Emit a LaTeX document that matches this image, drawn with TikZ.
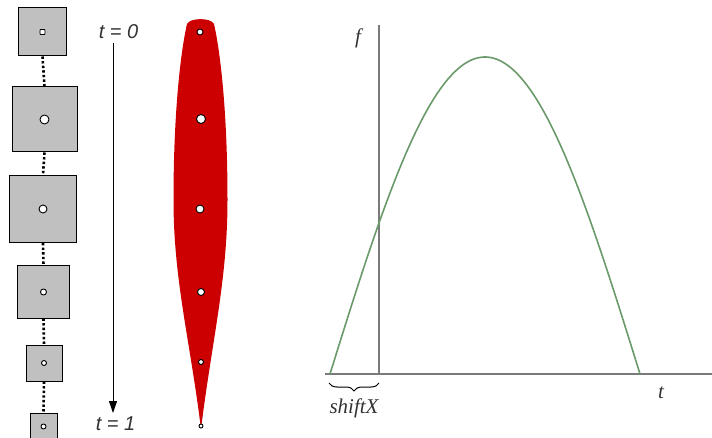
\documentclass[tikz,border=0pt]{standalone}
\usepackage{fontspec}
\setmainfont{Liberation Serif}
\newfontfamily\arialfont{Liberation Sans}
\usetikzlibrary{arrows.meta,decorations.pathreplacing}
\definecolor{boxgray}{HTML}{C0C0C0}
\definecolor{axisgray}{HTML}{7A7A7A}
\definecolor{curvegreen}{HTML}{6A9A6A}
\definecolor{spindlered}{HTML}{CC0000}
\definecolor{labelgray}{HTML}{333333}
\tikzset{
  sqbox/.style={draw=black, line width=1pt, fill=boxgray, minimum size=#1, inner sep=0pt},
  hole/.style={circle, draw=black, line width=0.9pt, fill=white, minimum size=#1, inner sep=0pt},
  link/.style={line width=2.6pt, dash pattern=on 2.4pt off 2.2pt},
  tlabel/.style={font=\arialfont\itshape\fontsize{20}{20}\selectfont, text=labelgray, inner sep=0pt},
  axislabel/.style={font=\itshape\fontsize{21}{21}\selectfont, text=labelgray, inner sep=0pt},
  axis/.style={draw=axisgray, line width=2.4pt},
}
\begin{document}
\begin{tikzpicture}[x=1pt,y=-1pt]
\useasboundingbox (0,0) rectangle (712,438);
% squares
\node[sqbox=48pt] (s1) at (42.5,32) {};
\node[sqbox=65pt] (s2) at (44.5,119.5) {};
\node[sqbox=67pt] (s3) at (43,209) {};
\node[sqbox=52pt] (s4) at (43.5,292) {};
\node[sqbox=36pt] (s5) at (44,363) {};
\node[sqbox=27pt] (s6) at (43.5,426.5) {};
\foreach \a/\b in {s1/s2,s2/s3,s3/s4,s4/s5,s5/s6}
  \draw[link] (\a.south) -- (\b.north);
\node[draw=black, line width=0.9pt, fill=white, minimum size=5pt, inner sep=0pt, rounded corners=0.8pt] (h1) at (s1.center) {};
\node[hole=9pt] (h2) at (s2.center) {};
\node[hole=8pt] (h3) at (s3.center) {};
\node[hole=6pt] (h4) at (s4.center) {};
\node[hole=5pt] (h5) at (s5.center) {};
\node[hole=5pt] (h6) at (s6.center) {};
% time arrow
\node[tlabel] (t0) at (118.5,32) {t = 0};
\node[tlabel] (t1) at (115.5,424) {t = 1};
\coordinate (a0) at (113,43);
\coordinate (a1) at (113,413);
\draw[line width=1pt, -{Triangle[length=12pt,width=8pt]}] (a0) -- (a1);
% spindle
\fill[spindlered] (201,429) .. controls (212,340) and (227.5,280) .. (227.5,200)
  .. controls (227.5,110) and (220,50) .. (214,24)
  .. controls (211,17.5) and (190,17.5) .. (187,24)
  .. controls (181,50) and (173.5,110) .. (173.5,200)
  .. controls (173.5,280) and (190,340) .. (201,429) -- cycle;
\node[hole=6pt] (d1) at (200,32) {};
\node[hole=9pt] (d2) at (201,119) {};
\node[hole=8pt] (d3) at (200,209) {};
\node[hole=7pt] (d4) at (201,292) {};
\node[hole=5pt] (d5) at (201,362) {};
\node[hole=4pt] (d6) at (201,426) {};
% graph
\coordinate (ytop) at (379,25);
\coordinate (ybot) at (379,375);
\coordinate (xl) at (325,374);
\coordinate (xr) at (712,374);
\draw[axis] (ytop) -- (ybot);
\draw[axis] (xl) -- (xr);
\draw[draw=curvegreen, line width=1.6pt] plot[domain=0:180, samples=120, smooth] ({330 + 1.72222*\x}, {374 - 317*sin(\x)});
\node[axislabel] (f) at (358,38) {f};
\node[axislabel] (t) at (661,393) {t};
\coordinate (b1) at (379,383);
\coordinate (b0) at (329,383);
\draw[line width=1pt, decorate, decoration={brace, amplitude=8pt}] (b1) -- (b0);
\node[axislabel] (sx) at (354,408) {shiftX};
\end{tikzpicture}
\end{document}
